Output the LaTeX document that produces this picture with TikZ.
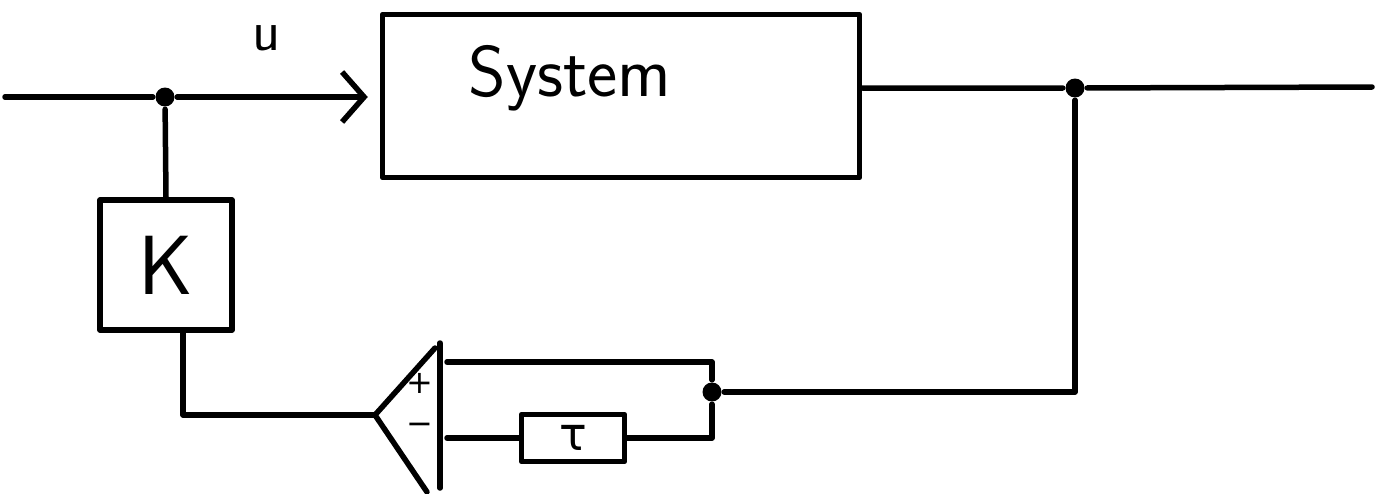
\documentclass[tikz,border=0pt]{standalone}
\usepackage{fontspec}
\newfontfamily\dvs{DejaVu Sans}
\usetikzlibrary{arrows.meta,calc}
\begin{document}
\begin{tikzpicture}[x=1pt,y=-1pt,line width=5.5pt,line cap=round,line join=round,
  blk/.style={draw,rectangle,inner sep=0pt,font=\sffamily},
  dot/.style={circle,fill,inner sep=0pt,minimum size=19pt},
  lbl/.style={font=\sffamily,inner sep=0pt}]
\useasboundingbox (0,0) rectangle (1380,493);
% coordinates
\coordinate (in) at (5,97);
\node[dot] (d1) at (165,97) {};
\coordinate (out) at (1372,87);
\node[dot] (d2) at (1075,88) {};
\node[dot] (d3) at (712,392) {};
% blocks
\node[blk,minimum width=477pt,minimum height=163pt] (sys) at (621,96) {};
\node[lbl,font=\sffamily\fontsize{72}{76}\selectfont] (systxt) at (570,78) {System};
\node[blk,minimum width=132pt,minimum height=130pt,font=\sffamily\fontsize{84}{88}\selectfont] (K) at (166,265) {K};
\node[blk,minimum width=103pt,minimum height=47pt,font=\dvs\fontsize{46}{50}\selectfont] (tau) at (573,438) {τ};
\node[lbl,font=\sffamily\fontsize{58}{60}\selectfont] (u) at (267,38) {u};
% summing junction
\coordinate (sout) at (375,415);
\coordinate (splus) at (447,362);
\coordinate (sminus) at (447,438);
\draw (440,343) -- (440,488);
\draw (435,348) -- (sout) -- (427,492);
\node[font=\dvs\fontsize{32}{34}\selectfont,inner sep=0pt] (plus) at (420,383) {+};
\node[font=\dvs\fontsize{32}{34}\selectfont,inner sep=0pt] (minus) at (420,429) {−};
% connectors
\draw (in) -- (d1);
\draw[-{Straight Barb[length=22pt,width=50pt]},shorten >=12pt] (d1) -- (sys.west |- d1);
\draw (sys.east |- d2) -- (d2) -- (out);
\draw (d2) |- (d3);
\draw (d3) |- (splus);
\draw (d3) |- (tau.east);
\draw (tau.west) -- (sminus);
\draw (sout) -| ($(K.south)+(17,0)$);
\draw (K.north) -- (d1);
\end{tikzpicture}
\end{document}
